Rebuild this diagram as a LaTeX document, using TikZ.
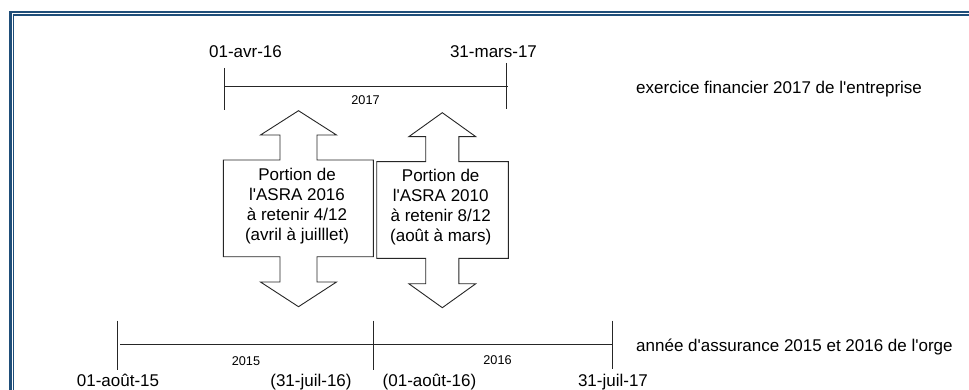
\documentclass[tikz,border=0pt]{standalone}
\usepackage{fontspec}
\setmainfont{Liberation Sans}
\usepackage{xcolor}
\usepackage{tikz}
\usetikzlibrary{
    positioning,
    calc
}
\definecolor{framecol}{RGB}{31,78,121}
\tikzset{
    datelbl/.style={font=\fontsize{17}{20}\selectfont, inner sep=0pt, anchor=base},
    yearlbl/.style={font=\fontsize{12.7}{14}\selectfont, inner sep=0pt},
    sidelbl/.style={font=\fontsize{17}{20}\selectfont, inner sep=0pt, anchor=west},
    boxtxt/.style={font=\fontsize{17}{20}\selectfont, align=center, inner sep=0pt},
    tline/.style={line width=0.9pt, black!85},
    callshape/.style={line width=0.9pt, draw=black!85, fill=white}
}

\begin{document}
\begin{tikzpicture}[x=1pt, y=-1pt]
            \useasboundingbox (0,0) rectangle (969,390);
            % 枠
            \draw[framecol, line width=2.5pt] (10.3,391) -- (10.3,12.2) -- (970,12.2);
            \draw[framecol, line width=1.3pt] (13.3,391) -- (13.3,15) -- (970,15);

            % 上の期間
            \coordinate (t1) at (224,68);
            \coordinate (t1b) at (224,110);
            \coordinate (t2) at (506,63);
            \coordinate (t2b) at (506,109);
            \coordinate (tl) at (224,86);
            \coordinate (tr) at (508,86);
            \draw[tline] (t1)--(t1b);
            \draw[tline] (t2)--(t2b);
            \draw[tline] (tl)--(tr);
            \node[datelbl] (avr) at (245.5,58) {01-avr-16};
            \node[datelbl] (mars) at (493.5,58) {31-mars-17};
            \node[yearlbl] (y17) at (365.5,100) {2017};
            \node[sidelbl] (exer) at (636,89) {exercice financier 2017 de l\textquotesingle entreprise};

            % 下の期間
            \coordinate (b1) at (117,320.5);
            \coordinate (b1b) at (117,370);
            \coordinate (b2) at (373.5,320.5);
            \coordinate (b2b) at (373.5,369.5);
            \coordinate (b3) at (612.5,320.5);
            \coordinate (b3b) at (612.5,368.5);
            \coordinate (bl) at (120,344.5);
            \coordinate (br) at (613,344.5);
            \draw[tline] (b1)--(b1b);
            \draw[tline] (b2)--(b2b);
            \draw[tline] (b3)--(b3b);
            \draw[tline] (bl)--(br);
            \node[yearlbl] (y15) at (246,361) {2015};
            \node[yearlbl] (y16) at (497.5,360.5) {2016};
            \node[datelbl] (aout15) at (118,386.5) {01-août-15};
            \node[datelbl] (juil16) at (311,386.5) {(31-juil-16)};
            \node[datelbl] (aout16) at (429.5,386.5) {(01-août-16)};
            \node[datelbl] (juil17) at (613,386.5) {31-juil-17};
            \node[sidelbl] (assur) at (636,347) {année d\textquotesingle assurance 2015 et 2016 de l\textquotesingle orge};

            % 両方向の矢印
            \draw[callshape] (298.5,110.7) -- (336.5,135) -- (317,135) -- (317,160)
                -- (373.3,160) -- (373.3,256.7) -- (317,256.7) -- (317,282)
                -- (336.5,282) -- (298.5,306.7) -- (260.5,282) -- (280,282)
                -- (280,256.7) -- (223.3,256.7) -- (223.3,160) -- (280,160)
                -- (280,135) -- (260.5,135) -- cycle;
            \draw[callshape] (442.3,112.7) -- (475.8,136.7) -- (458.9,136.7) -- (458.9,161.7)
                -- (508.3,161.7) -- (508.3,258.3) -- (458.9,258.3) -- (458.9,283.7)
                -- (475.8,283.7) -- (442.3,307.7) -- (408.8,283.7) -- (425.7,283.7)
                -- (425.7,258.3) -- (376.7,258.3) -- (376.7,161.7) -- (425.7,161.7)
                -- (425.7,136.7) -- (408.8,136.7) -- cycle;
            \node[boxtxt] (part16) at (297,206) {Portion de\\l\textquotesingle ASRA 2016\\à retenir 4/12\\(avril à juilllet)};
            \node[boxtxt] (part10) at (440.7,207) {Portion de\\l\textquotesingle ASRA 2010\\ à retenir 8/12\\(août à mars)};
        \end{tikzpicture}
\end{document}
